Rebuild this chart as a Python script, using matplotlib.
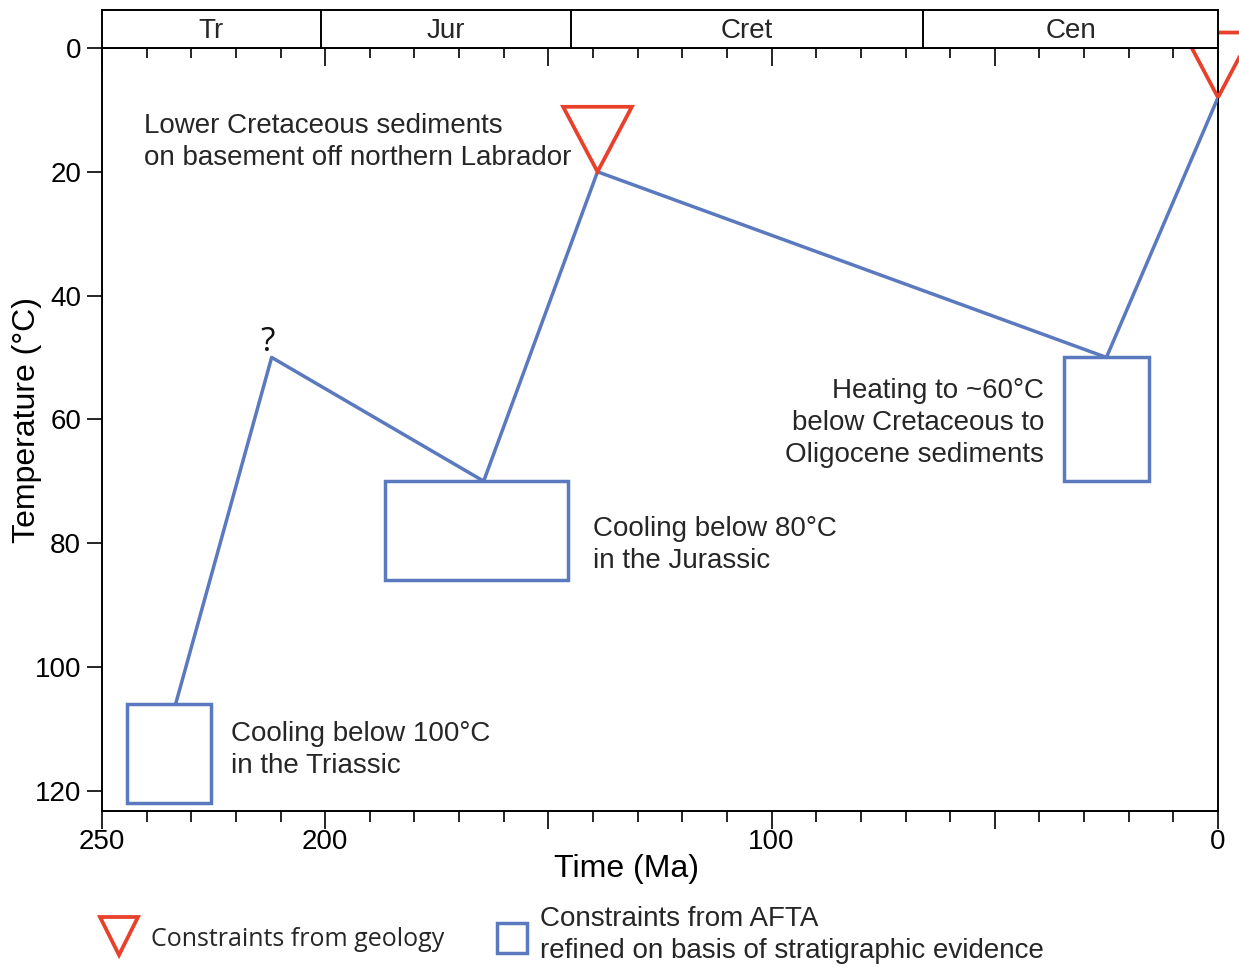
import matplotlib
matplotlib.use("Agg")
import matplotlib.pyplot as plt
from matplotlib.patches import Rectangle, Polygon
from matplotlib.lines import Line2D
from matplotlib.ticker import MultipleLocator

plt.rcParams['font.family'] = ['Liberation Sans', 'DejaVu Sans']

# thermal history path (age in Ma, temperature in degC)
path_age = [233.5, 212, 164.5, 139, 25, 0]
path_temp = [106, 50, 70, 20, 50, 8]

# AFTA constraint boxes
box_age_old = [244.5, 186.5, 34.5]
box_age_young = [225.5, 145.5, 15.5]
box_temp_top = [106, 70, 50]
box_temp_bottom = [122, 86, 70]

# geological constraints (apex of triangles)
geo_age = [139, 0]
geo_temp = [20, 8]

# periods
period_names = ["Tr", "Jur", "Cret", "Cen"]
period_bounds = [250, 201, 145, 66, 0]

blue = "#5a79bf"
red = "#e8402a"
txt = "#262626"
tri_half_w = 7.7
tri_h = 10.5

fig = plt.figure(figsize=(12.39, 9.67), dpi=100)
ax = fig.add_axes([102 / 1239, 1 - 811 / 967, 1116 / 1239, 763 / 967])
hx = fig.add_axes([102 / 1239, 1 - 48 / 967, 1116 / 1239, 38 / 967])

ax.set_xlim(250, 0)
ax.set_ylim(123.3, 0)

# path and boxes
ax.plot(path_age, path_temp, color=blue, lw=2.5, zorder=3)
for a0, a1, t0, t1 in zip(box_age_old, box_age_young, box_temp_top, box_temp_bottom):
    ax.add_patch(Rectangle((a0, t0), a1 - a0, t1 - t0, fill=False,
                           edgecolor=blue, lw=2.5, zorder=3))

for a, t in zip(geo_age, geo_temp):
    tri = Polygon([(a, t), (a - tri_half_w, t - tri_h), (a + tri_half_w, t - tri_h)],
                  closed=True, fill=False, edgecolor=red, lw=2.7, zorder=5,
                  clip_on=False)
    ax.add_patch(tri)

# ticks
ax.xaxis.set_minor_locator(MultipleLocator(10))
ax.set_xticks([250, 200, 150, 100, 50, 0])
ax.set_xticklabels(["250", "200", "", "100", "", "0"])
ax.set_yticks([0, 20, 40, 60, 80, 100, 120])
ax.tick_params(axis='x', which='major', direction='out', length=13, width=1.2,
               labelsize=20, top=False, pad=0)
ax.tick_params(axis='x', which='minor', direction='out', length=8, width=1.2,
               top=False)
ax.tick_params(axis='y', direction='out', length=11, width=1.2, labelsize=20, pad=4)
for s in ax.spines.values():
    s.set_linewidth(1.4)

ax.set_xlabel("Time (Ma)", fontsize=23)
ax.xaxis.set_label_coords((627 - 102) / 1116, -0.057)
ax.xaxis.label.set_va('top')
ax.set_ylabel("Temperature (°C)", fontsize=23)
ax.yaxis.set_label_coords((42 - 102) / 1116, 0.512)

# annotations
opts = dict(fontsize=20, color=txt, linespacing=1.32)
ax.text(240.5, 15.2, "Lower Cretaceous sediments\non basement off northern Labrador",
        ha='left', va='center', **opts)
ax.text(221, 113.4, "Cooling below 100°C\nin the Triassic",
        ha='left', va='center', **opts)
ax.text(140, 80.3, "Cooling below 80°C\nin the Jurassic",
        ha='left', va='center', **opts)
ax.text(39, 60.6, "Heating to ~60°C\nbelow Cretaceous to\nOligocene sediments",
        ha='right', va='center', **opts)
ax.text(213, 49.0, "?", fontsize=24, ha='center', va='baseline', color='#111111',
        family=['Open Sans', 'DejaVu Sans'])

# period header, its ticks point down into the plot
hx.set_xlim(250, 0)
hx.set_ylim(0, 1)
hx.set_yticks([])
hx.set_xticks([250, 200, 150, 100, 50, 0])
hx.xaxis.set_minor_locator(MultipleLocator(10))
hx.tick_params(axis='x', which='major', direction='out', length=13, width=1.2,
               labelbottom=False)
hx.tick_params(axis='x', which='minor', direction='out', length=7, width=1.2)
for s in hx.spines.values():
    s.set_linewidth(1.4)
for b in period_bounds[1:-1]:
    hx.axvline(b, color='black', lw=1.4)
for name, b0, b1 in zip(period_names, period_bounds[:-1], period_bounds[1:]):
    hx.text((b0 + b1) / 2, 0.44, name, fontsize=20, ha='center', va='center',
            color=txt)

# legend
fig.add_artist(Line2D([119 / 1239], [1 - 936 / 967], transform=fig.transFigure,
                      marker='v', markersize=27, markerfacecolor='none',
                      markeredgecolor=red, markeredgewidth=2.7, ls='none'))
fig.text(151 / 1239, 1 - 940 / 967, "Constraints from geology", fontsize=18,
         ha='left', va='center', color=txt,
         family=['Open Sans', 'DejaVu Sans'])
fig.add_artist(Line2D([512 / 1239], [1 - 938 / 967], transform=fig.transFigure,
                      marker='s', markersize=21, markerfacecolor='none',
                      markeredgecolor=blue, markeredgewidth=2.5, ls='none'))
fig.text(540 / 1239, 1 - 935 / 967,
         "Constraints from AFTA\nrefined on basis of stratigraphic evidence",
         fontsize=20, ha='left', va='center', color=txt, linespacing=1.35)

fig.savefig("out.png", dpi=100)
